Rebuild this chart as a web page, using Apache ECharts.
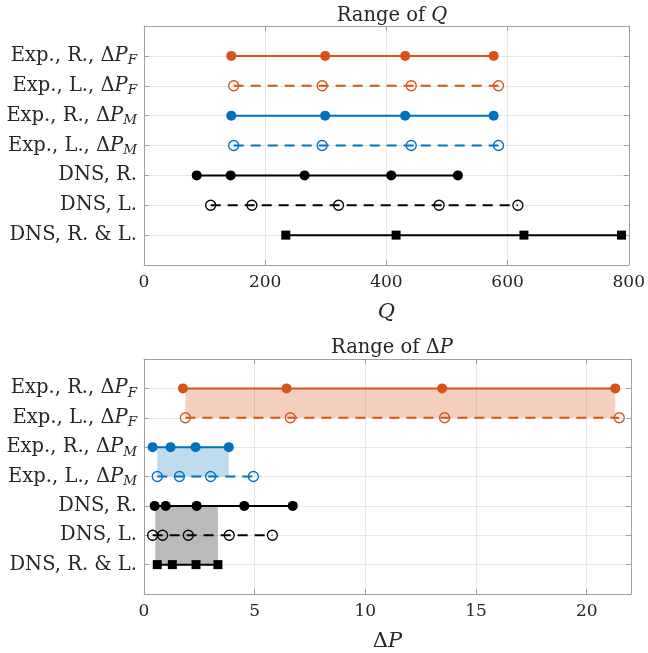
<!DOCTYPE html>
<html>
<head>
<meta charset="utf-8">
<script src="https://cdn.jsdelivr.net/npm/echarts@6/dist/echarts.min.js"></script>
<style>html,body{margin:0;padding:0;background:#fff;}#c{width:648px;height:653px;}</style>
</head>
<body>
<div id="c"></div>
<script>
// Row labels (1..7 from top)
var rowLabels = [
  '{n|Exp., R., Δ}{i|P}{s|F}',
  '{n|Exp., L., Δ}{i|P}{s|F}',
  '{n|Exp., R., Δ}{i|P}{s|M}',
  '{n|Exp., L., Δ}{i|P}{s|M}',
  '{n|DNS, R.}',
  '{n|DNS, L.}',
  '{n|DNS, R. & L.}'
];
var qTicks = [0, 200, 400, 600, 800];
var pTicks = [0, 5, 10, 15, 20];

// Range of Q
var qExpRF = [144, 299, 431, 577];
var qExpLF = [148, 294, 441, 585];
var qExpRM = [144, 299, 431, 577];
var qExpLM = [148, 294, 441, 585];
var qDnsR  = [87, 143, 265, 408, 518];
var qDnsL  = [110, 178, 321, 487, 617];
var qDnsRL = [234, 416, 627, 788];

// Range of ΔP
var pExpRF = [1.76, 6.44, 13.47, 21.29];
var pExpLF = [1.87, 6.61, 13.58, 21.47];
var pExpRM = [0.39, 1.20, 2.33, 3.83];
var pExpLM = [0.60, 1.60, 3.01, 4.94];
var pDnsR  = [0.48, 0.98, 2.38, 4.53, 6.72];
var pDnsL  = [0.39, 0.84, 2.00, 3.85, 5.80];
var pDnsRL = [0.60, 1.28, 2.35, 3.34];

// shaded bands: [xmin, xmax, rowFrom, rowTo]
var bandF   = [1.87, 21.29, 1, 2];
var bandM   = [0.60, 3.83, 3, 4];
var bandDNS = [0.51, 3.34, 5, 7];

var ORANGE = '#D95319', BLUE = '#0072BD', BLACK = '#000000';
var FONT = 'DejaVu Serif';
var FRAME = '#a0a0a0';
var TXT = '#262626';

var rowStyles = [
  {color: ORANGE, dash: false, sym: 'circle', fill: true},
  {color: ORANGE, dash: true,  sym: 'circle', fill: false},
  {color: BLUE,   dash: false, sym: 'circle', fill: true},
  {color: BLUE,   dash: true,  sym: 'circle', fill: false},
  {color: BLACK,  dash: false, sym: 'circle', fill: true},
  {color: BLACK,  dash: true,  sym: 'circle', fill: false},
  {color: BLACK,  dash: false, sym: 'rect',   fill: true}
];
var qRows = [qExpRF, qExpLF, qExpRM, qExpLM, qDnsR, qDnsL, qDnsRL];
var pRows = [pExpRF, pExpLF, pExpRM, pExpLM, pDnsR, pDnsL, pDnsRL];

var rich = {
  n: {fontFamily: FONT, fontSize: 19.5, color: TXT},
  i: {fontFamily: FONT, fontSize: 19.5, fontStyle: 'italic', color: TXT},
  s: {fontFamily: FONT, fontSize: 13.5, fontStyle: 'italic', color: TXT, padding: [10, 0, 0, 0]}
};
var titleRich = {
  n: {fontFamily: FONT, fontSize: 19.5, color: TXT},
  i: {fontFamily: FONT, fontSize: 19.5, fontStyle: 'italic', color: TXT}
};
var nameRich = {
  n: {fontFamily: FONT, fontSize: 21, color: TXT},
  i: {fontFamily: FONT, fontSize: 21, fontStyle: 'italic', color: TXT}
};

function xAxes(gi, max, interval, nameStr) {
  return [{
    gridIndex: gi, type: 'value', min: 0, max: max, interval: interval,
    name: nameStr, nameLocation: 'middle', nameGap: 37,
    nameTextStyle: {rich: nameRich},
    axisLine: {show: true, onZero: false, lineStyle: {color: FRAME, width: 1}},
    axisTick: {show: true, inside: true, length: 5, lineStyle: {color: FRAME}},
    axisLabel: {fontFamily: FONT, fontSize: 17, color: TXT, margin: 9,
      formatter: function (v) { return (v % interval === 0) ? String(v) : ''; }},
    splitLine: {show: true, lineStyle: {color: '#e6e6e6', width: 1}}
  }, {
    gridIndex: gi, type: 'value', min: 0, max: max, interval: interval, position: 'top',
    axisLine: {show: true, onZero: false, lineStyle: {color: FRAME, width: 1}},
    axisTick: {show: true, inside: true, length: 5, lineStyle: {color: FRAME}},
    axisLabel: {show: false}, splitLine: {show: false}
  }];
}
function yAxes(gi) {
  return [{
    gridIndex: gi, type: 'value', min: 0, max: 8, interval: 1, inverse: true, position: 'left',
    axisLine: {show: true, onZero: false, lineStyle: {color: FRAME, width: 1}},
    axisTick: {show: true, inside: true, length: 5, lineStyle: {color: FRAME}},
    axisLabel: {margin: 7, rich: rich,
      formatter: function (v) { return (v >= 1 && v <= 7) ? rowLabels[v - 1] : ''; }},
    splitLine: {show: true, lineStyle: {color: '#e6e6e6', width: 1}}
  }, {
    gridIndex: gi, type: 'value', min: 0, max: 8, interval: 1, inverse: true, position: 'right',
    axisLine: {show: true, onZero: false, lineStyle: {color: FRAME, width: 1}},
    axisTick: {show: true, inside: true, length: 5, lineStyle: {color: FRAME}},
    axisLabel: {show: false}, splitLine: {show: false}
  }];
}

var series = [];
function addRows(rows, xi, yi) {
  rows.forEach(function (vals, r) {
    var st = rowStyles[r];
    series.push({
      type: 'line', xAxisIndex: xi, yAxisIndex: yi,
      data: vals.map(function (v) { return [v, r + 1]; }),
      symbol: st.sym, symbolSize: st.sym === 'rect' ? 9 : 10,
      showAllSymbol: true, animation: false, z: 5,
      lineStyle: {color: st.color, width: 2, type: st.dash ? [10, 7] : 'solid'},
      itemStyle: st.fill ? {color: st.color, borderWidth: 0}
                         : {color: 'rgba(255,255,255,0)', borderColor: st.color, borderWidth: 1.3}
    });
  });
}
addRows(qRows, 0, 0);
addRows(pRows, 2, 2);

function band(b, color) {
  return [{coord: [b[0], b[2]], itemStyle: {color: color}}, {coord: [b[1], b[3]]}];
}
series.push({
  type: 'line', xAxisIndex: 2, yAxisIndex: 2, data: [], z: 1,
  markArea: {silent: true, animation: false, label: {show: false},
    data: [band(bandF, 'rgba(217,83,25,0.28)'), band(bandM, 'rgba(0,114,189,0.25)'), band(bandDNS, 'rgba(0,0,0,0.27)')]}
});

var chart = echarts.init(document.getElementById('c'), null, {renderer: 'canvas'});
chart.setOption({
  backgroundColor: '#fff',
  animation: false,
  title: [
    {text: '{n|Range of }{i|Q}', left: 387, top: 1, textAlign: 'center', textStyle: {rich: titleRich, fontWeight: 'normal'}},
    {text: '{n|Range of Δ}{i|P}', left: 387, top: 333, textAlign: 'center', textStyle: {rich: titleRich, fontWeight: 'normal'}}
  ],
  grid: [
    {left: 144, right: 17, top: 26, height: 239, show: false},
    {left: 144, right: 17, top: 359, height: 239, show: false}
  ],
  xAxis: xAxes(0, 800, 200, '{i|Q}').concat(xAxes(1, 22, 5, '{n|Δ}{i|P}')),
  yAxis: yAxes(0).concat(yAxes(1)),
  series: series
});
</script>
</body>
</html>
